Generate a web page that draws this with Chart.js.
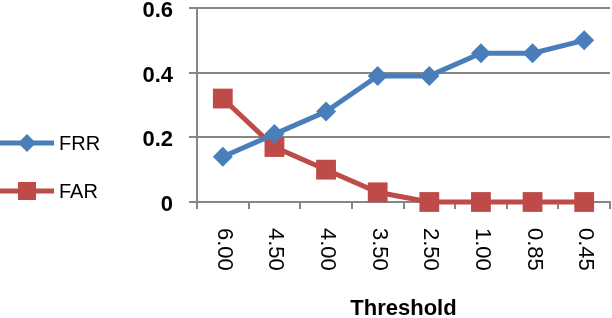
<!DOCTYPE html>
<html>
<head>
<meta charset="utf-8">
<script src="https://cdn.jsdelivr.net/npm/chart.js@4/dist/chart.umd.min.js"></script>
<style>
  html, body { margin: 0; padding: 0; background: #fff; }
  #wrap { width: 612px; height: 318px; position: relative; }
</style>
</head>
<body>
<div id="wrap"><canvas id="chart"></canvas></div>
<script>
// Data
const THRESHOLDS = ['6.00', '4.50', '4.00', '3.50', '2.50', '1.00', '0.85', '0.45'];
const FRR = [0.14, 0.21, 0.28, 0.39, 0.39, 0.46, 0.46, 0.50];
const FAR = [0.32, 0.17, 0.10, 0.03, 0, 0, 0, 0];
const Y_TICKS = [0, 0.2, 0.4, 0.6];
const X_TITLE = 'Threshold';

const FONT = "'Liberation Sans', Arial, sans-serif";
const BLUE = '#4A7EBB';
const RED = '#BE4B48';
const GRID = '#868686';

/** Rotated category labels, axis title and left legend (Excel style) */
const excelBits = {
  id: 'excelBits',
  afterDraw(chart) {
    const { ctx, chartArea, scales } = chart;
    const x = scales.x;

    // x labels, reading top to bottom
    ctx.save();
    ctx.fillStyle = '#000';
    ctx.font = `22px ${FONT}`;
    ctx.textAlign = 'left';
    ctx.textBaseline = 'middle';
    THRESHOLDS.forEach((lab, i) => {
      ctx.save();
      ctx.translate(x.getPixelForValue(i) + 1, chartArea.bottom + 26);
      ctx.rotate(Math.PI / 2);
      ctx.fillText(lab, 0, 0);
      ctx.restore();
    });

    // axis title
    ctx.font = `bold 22px ${FONT}`;
    ctx.textAlign = 'center';
    ctx.fillText(X_TITLE, (chartArea.left + chartArea.right) / 2, 309);

    // legend
    const items = chart.data.datasets.map((ds, i) => ({ ds, y: 143 + i * 48 }));
    for (const { ds, y } of items) {
      ctx.strokeStyle = ds.borderColor;
      ctx.fillStyle = ds.borderColor;
      ctx.lineWidth = 5;
      ctx.beginPath();
      ctx.moveTo(0, y);
      ctx.lineTo(54, y);
      ctx.stroke();
      ctx.beginPath();
      if (ds.pointStyle === 'rect') {
        ctx.rect(27 - 9, y - 9, 18, 18);
      } else {
        ctx.moveTo(27 - 9, y);
        ctx.lineTo(27, y - 9);
        ctx.lineTo(27 + 9, y);
        ctx.lineTo(27, y + 9);
        ctx.closePath();
      }
      ctx.fill();
      ctx.fillStyle = '#000';
      ctx.font = `20px ${FONT}`;
      ctx.textAlign = 'left';
      ctx.textBaseline = 'middle';
      ctx.fillText(ds.label, 59, y + 1);
    }
    ctx.restore();
  }
};

function zeroPadding(scale) {
  scale.paddingTop = 0;
  scale.paddingBottom = 0;
  scale.paddingLeft = 0;
  scale.paddingRight = 0;
}

new Chart(document.getElementById('chart'), {
  type: 'line',
  data: {
    labels: THRESHOLDS,
    datasets: [
      {
        label: 'FRR',
        data: FRR,
        borderColor: BLUE,
        backgroundColor: BLUE,
        borderWidth: 5,
        pointStyle: 'rectRot',
        pointRadius: 10,
        pointHoverRadius: 10,
        pointBorderWidth: 0,
        tension: 0,
        clip: false
      },
      {
        label: 'FAR',
        data: FAR,
        borderColor: RED,
        backgroundColor: RED,
        borderWidth: 5,
        pointStyle: 'rect',
        pointRadius: 14,
        pointHoverRadius: 14,
        pointBorderWidth: 0,
        tension: 0,
        clip: false
      }
    ]
  },
  options: {
    responsive: true,
    maintainAspectRatio: false,
    animation: false,
    events: [],
    layout: { autoPadding: false, padding: { left: 0, right: 2, top: 8, bottom: 0 } },
    scales: {
      x: {
        offset: true,
        grid: {
          offset: true,
          drawOnChartArea: false,
          color: GRID,
          lineWidth: 2,
          tickLength: 7
        },
        border: { color: GRID, width: 2 },
        ticks: { display: false },
        afterFit: scale => { scale.height = 116; zeroPadding(scale); }
      },
      y: {
        min: 0,
        max: 0.6,
        afterBuildTicks: scale => { scale.ticks = Y_TICKS.map(v => ({ value: v })); },
        grid: { color: GRID, lineWidth: 2, tickLength: 8 },
        border: { color: GRID, width: 2 },
        ticks: {
          color: '#000',
          padding: 16,
          labelOffset: 3,
          font: { family: FONT, size: 22, weight: 'bold' },
          callback: v => (v === 0 ? '0' : v.toFixed(1))
        },
        afterFit: scale => { scale.width = 197; zeroPadding(scale); }
      }
    },
    plugins: {
      legend: { display: false },
      tooltip: { enabled: false }
    }
  },
  plugins: [excelBits]
});
</script>
</body>
</html>
